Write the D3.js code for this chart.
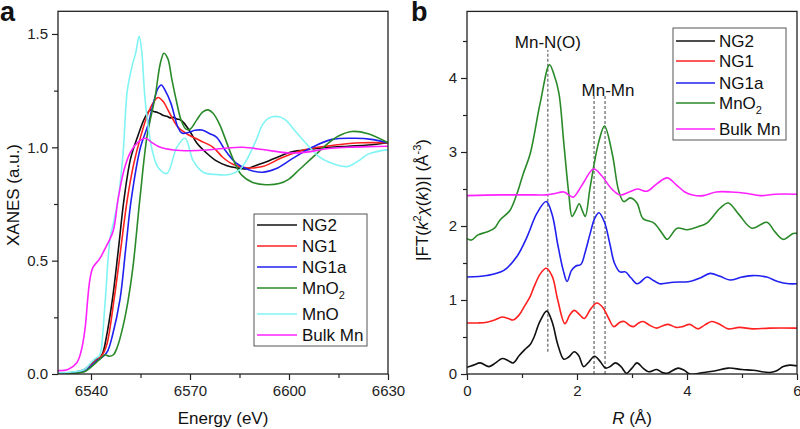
<!DOCTYPE html>
<html><head><meta charset="utf-8">
<script src="https://cdnjs.cloudflare.com/ajax/libs/d3/7.8.5/d3.min.js"></script>
<style>body{margin:0;background:#fff}svg{display:block;font-family:"Liberation Sans",Arial,sans-serif}</style>
</head><body>
<svg id="c" width="800" height="429"></svg>
<script>
// ---------- Panel a: XANES ----------
const xanesXTicks = [6540, 6570, 6600, 6630];
const xanesYTicks = [0, 0.5, 1.0, 1.5];
const ng2A = [[6530,0.005],[6535,0.008],[6538,0.02],[6540,0.045],[6541.5,0.065],[6542.5,0.07],[6543.5,0.09],[6544.5,0.15],[6546.5,0.33],[6548.3,0.55],[6550,0.77],[6552,0.95],[6554.2,1.05],[6556.3,1.13],[6558,1.165],[6559,1.158],[6560,1.155],[6561,1.148],[6562,1.14],[6563,1.137],[6564,1.13],[6565,1.132],[6566,1.125],[6567,1.122],[6568,1.11],[6570,1.07],[6572,1.02],[6575,0.975],[6578,0.94],[6581,0.92],[6584,0.91],[6587,0.905],[6590,0.92],[6593,0.935],[6597,0.96],[6601,0.98],[6606,0.99],[6612,1.0],[6618,1.005],[6624,1.01],[6630,1.02]];
const ng1A = [[6530,0.004],[6535,0.006],[6538,0.015],[6540,0.04],[6541.5,0.06],[6542.5,0.07],[6543.5,0.085],[6544.8,0.13],[6547,0.33],[6549,0.55],[6551,0.77],[6553,0.93],[6555,1.045],[6557.3,1.15],[6559,1.2],[6560.3,1.22],[6562,1.2],[6563.3,1.165],[6566.3,1.09],[6569,1.06],[6573,1.03],[6577,1.0],[6580,0.955],[6583,0.925],[6587,0.91],[6592,0.915],[6598,0.955],[6605,0.99],[6614,1.01],[6622,1.02],[6630,1.02]];
const ng1aA = [[6530,0.003],[6535,0.005],[6538,0.012],[6540,0.035],[6541.5,0.055],[6542.5,0.065],[6543.5,0.075],[6545,0.1],[6546.5,0.17],[6548.8,0.33],[6550.5,0.55],[6552.2,0.77],[6555,1.0],[6557.3,1.1],[6559,1.2],[6560.3,1.26],[6561.3,1.275],[6562.5,1.25],[6564.2,1.195],[6566.3,1.09],[6567.5,1.063],[6569.5,1.065],[6571.5,1.075],[6573.6,1.076],[6576,1.06],[6578,1.045],[6581,0.98],[6584,0.93],[6588,0.9],[6592,0.89],[6596,0.905],[6601,0.95],[6607,1.0],[6613,1.035],[6620,1.04],[6625,1.035],[6630,1.02]];
const mno2A = [[6530,0.002],[6535,0.004],[6538,0.01],[6540,0.03],[6541.5,0.05],[6543,0.07],[6544.3,0.085],[6545.5,0.078],[6546.8,0.085],[6548,0.12],[6549.7,0.21],[6551.2,0.32],[6552.7,0.47],[6554.8,0.77],[6557,1.05],[6559.4,1.22],[6561,1.37],[6562.1,1.415],[6563.3,1.39],[6564.5,1.3],[6565.8,1.21],[6567.3,1.12],[6568.8,1.08],[6570,1.08],[6572,1.12],[6573.8,1.155],[6575.5,1.165],[6577,1.15],[6579,1.1],[6580.5,1.045],[6583,0.95],[6585.5,0.88],[6589,0.845],[6593,0.835],[6597,0.84],[6600,0.86],[6603,0.9],[6606,0.94],[6609,0.98],[6612,1.02],[6615,1.05],[6619,1.07],[6624,1.06],[6630,1.02]];
const mnoA = [[6530,0.005],[6535,0.01],[6538,0.02],[6540,0.05],[6541.5,0.07],[6542.5,0.08],[6543,0.1],[6544.2,0.3],[6545.8,0.6],[6547,0.68],[6548.2,0.77],[6549.7,0.97],[6551,1.25],[6552.4,1.355],[6553.6,1.42],[6554.6,1.49],[6555.4,1.42],[6556.4,1.21],[6558.5,0.99],[6560.4,0.91],[6563,0.885],[6566,1.0],[6568.5,1.04],[6571,0.94],[6574,0.89],[6578,0.88],[6582,0.88],[6585,0.9],[6587,0.94],[6590,1.03],[6592,1.1],[6594,1.13],[6597,1.135],[6599,1.12],[6602,1.07],[6605,1.02],[6609,0.96],[6612,0.935],[6617.5,0.915],[6621,0.94],[6624,0.97],[6630,0.99]];
const bulkMnA = [[6530,0.015],[6533,0.02],[6535.7,0.05],[6537,0.1],[6538.2,0.2],[6539,0.33],[6539.7,0.42],[6540.6,0.47],[6542.7,0.51],[6544.5,0.56],[6546.7,0.63],[6548.2,0.77],[6550,0.9],[6552,0.98],[6554,1.02],[6556.5,1.04],[6558.5,1.02],[6561,1.0],[6565,0.988],[6570,0.985],[6575,0.988],[6580,0.995],[6586,1.0],[6592,0.99],[6600,0.975],[6606,0.98],[6612,0.995],[6618,1.0],[6624,1.003],[6630,1.005]];

// ---------- Panel b: FT-EXAFS ----------
const ftXTicks = [0, 2, 4, 6];
const ftYTicks = [0, 1, 2, 3, 4];
const ng2B = [[0,0.09],[0.12,0.12],[0.24,0.15],[0.4,0.1],[0.52,0.15],[0.64,0.21],[0.75,0.18],[0.84,0.15],[0.95,0.25],[1.05,0.33],[1.15,0.4],[1.22,0.5],[1.32,0.7],[1.45,0.85],[1.55,0.7],[1.65,0.4],[1.76,0.2],[1.85,0.23],[1.95,0.3],[2.03,0.25],[2.12,0.1],[2.2,0.15],[2.32,0.24],[2.42,0.17],[2.52,0.08],[2.6,0.1],[2.7,0.15],[2.8,0.1],[2.9,0.01],[3.0,0.08],[3.09,0.15],[3.2,0.08],[3.3,0.03],[3.45,0.06],[3.55,0.02],[3.64,0.01],[3.84,0.08],[3.95,0.05],[4.05,0.0],[4.3,0.02],[4.5,0.04],[4.75,0.08],[5.0,0.06],[5.2,0.05],[5.5,0.02],[5.62,0.04],[5.75,0.1],[5.87,0.12],[6,0.11]];
const ng1B = [[0,0.69],[0.2,0.69],[0.36,0.70],[0.5,0.73],[0.64,0.77],[0.75,0.75],[0.84,0.73],[0.95,0.8],[1.04,0.91],[1.15,1.05],[1.22,1.18],[1.33,1.35],[1.44,1.43],[1.55,1.32],[1.65,1.0],[1.78,0.68],[1.87,0.8],[1.95,0.86],[2.05,0.8],[2.13,0.75],[2.25,0.88],[2.36,0.96],[2.47,0.9],[2.57,0.76],[2.67,0.64],[2.78,0.7],[2.86,0.71],[2.95,0.66],[3.03,0.64],[3.12,0.69],[3.2,0.71],[3.32,0.66],[3.45,0.62],[3.55,0.65],[3.66,0.67],[3.8,0.63],[3.92,0.64],[4.05,0.67],[4.2,0.61],[4.32,0.66],[4.45,0.71],[4.6,0.67],[4.75,0.61],[4.95,0.63],[5.2,0.61],[5.5,0.62],[6,0.62]];
const ng1aB = [[0,1.31],[0.36,1.33],[0.67,1.4],[0.9,1.58],[1.09,1.85],[1.27,2.17],[1.44,2.33],[1.55,2.15],[1.65,1.75],[1.75,1.4],[1.82,1.25],[1.9,1.4],[1.98,1.46],[2.07,1.48],[2.15,1.65],[2.24,1.9],[2.32,2.1],[2.4,2.18],[2.5,2.05],[2.6,1.75],[2.68,1.5],[2.78,1.38],[2.88,1.38],[2.98,1.3],[3.09,1.22],[3.15,1.24],[3.27,1.31],[3.4,1.26],[3.5,1.22],[3.75,1.24],[4.05,1.25],[4.25,1.3],[4.42,1.36],[4.6,1.32],[4.78,1.27],[5.0,1.31],[5.2,1.33],[5.45,1.31],[5.65,1.25],[5.85,1.22],[6,1.22]];
const mno2B = [[0,1.83],[0.08,1.81],[0.2,1.88],[0.36,1.92],[0.5,1.97],[0.6,2.08],[0.78,2.21],[0.91,2.44],[1.02,2.7],[1.15,2.98],[1.33,3.66],[1.5,4.18],[1.58,4.05],[1.67,3.8],[1.76,3.12],[1.85,2.44],[1.91,2.13],[1.97,2.2],[2.04,2.3],[2.1,2.2],[2.15,2.13],[2.24,2.53],[2.39,3.12],[2.5,3.35],[2.64,2.98],[2.76,2.47],[2.85,2.33],[2.97,2.38],[3.09,2.31],[3.2,2.1],[3.4,2.04],[3.55,1.9],[3.64,1.82],[3.82,1.97],[4.0,1.95],[4.2,1.99],[4.36,2.04],[4.6,2.24],[4.75,2.31],[4.95,2.15],[5.18,1.97],[5.45,2.05],[5.6,1.92],[5.75,1.82],[5.93,1.9],[6,1.9]];
const bulkMnB = [[0,2.41],[0.6,2.42],[1.22,2.42],[1.45,2.42],[1.6,2.44],[1.76,2.46],[1.85,2.42],[1.93,2.39],[2.09,2.55],[2.3,2.77],[2.45,2.68],[2.62,2.51],[2.78,2.42],[2.95,2.46],[3.1,2.5],[3.27,2.47],[3.45,2.57],[3.64,2.65],[3.8,2.56],[3.96,2.46],[4.1,2.42],[4.3,2.41],[4.53,2.46],[4.8,2.46],[5.1,2.44],[5.33,2.41],[5.6,2.43],[6,2.43]];
const markerR = [1.47, 2.31, 2.51];

const C = {ng2:"#111111", ng1:"#ff2020", ng1a:"#2020f0", mno2:"#2a8a2a", mno:"#80f4f4", bulk:"#ff22ff"};
const svg = d3.select("#c");
const axisColor = "#222";

function frame(g, x, y) {
  const [x0,x1] = x.range(), [y0,y1] = y.range();
  g.append("rect").attr("x",x0).attr("y",y1).attr("width",x1-x0).attr("height",y0-y1)
    .attr("fill","none").attr("stroke",axisColor).attr("stroke-width",1.3);
}
function axes(g, x, y, xMaj, xMin, yMaj, yMin, yFmt) {
  const ax = d3.axisBottom(x).tickValues(xMaj).tickSize(6).tickPadding(5).tickFormat(d3.format("d"));
  const axg = g.append("g").attr("transform",`translate(0,${y.range()[0]})`).call(ax);
  const axm = g.append("g").attr("transform",`translate(0,${y.range()[0]})`).call(d3.axisBottom(x).tickValues(xMin).tickSize(4).tickFormat(""));
  const ay = d3.axisLeft(y).tickValues(yMaj).tickSize(6).tickPadding(4).tickFormat(yFmt);
  const ayg = g.append("g").attr("transform",`translate(${x.range()[0]},0)`).call(ay);
  const aym = g.append("g").attr("transform",`translate(${x.range()[0]},0)`).call(d3.axisLeft(y).tickValues(yMin).tickSize(4).tickFormat(""));
  [axg,axm,ayg,aym].forEach(a=>{
    a.select(".domain").remove();
    a.selectAll("line").attr("stroke",axisColor).attr("stroke-width",1.2);
    a.selectAll("text").attr("font-size",15).attr("fill","#222").attr("font-family","Liberation Sans, Arial, sans-serif");
  });
}
function series(g, x, y, data, color) {
  const line = d3.line().x(d=>x(d[0])).y(d=>y(d[1])).curve(d3.curveCatmullRom.alpha(0.5));
  g.append("path").datum(data).attr("d",line).attr("fill","none").attr("stroke",color).attr("stroke-width",1.6);
}
function legend(g, x0, y0, w, rows, lineX0, lineX1, textX) {
  const h = rows[rows.length-1].y + 11 - y0;
  g.append("rect").attr("x",x0).attr("y",y0).attr("width",w).attr("height",h)
    .attr("fill","#fff").attr("stroke","#555").attr("stroke-width",1);
  rows.forEach(r=>{
    g.append("line").attr("x1",lineX0).attr("x2",lineX1).attr("y1",r.y).attr("y2",r.y).attr("stroke",r.c).attr("stroke-width",1.6);
    const t = g.append("text").attr("x",textX).attr("y",r.y+6).attr("font-size",17).attr("fill","#111");
    if (r.sub) { t.append("tspan").text(r.name); t.append("tspan").attr("dy",5).attr("font-size",11).text(r.sub); }
    else t.text(r.name);
  });
}

// ----- Panel a -----
const xa = d3.scaleLinear().domain([6530,6630]).range([58,388]);
const ya = d3.scaleLinear().domain([0,1.6]).range([374,11.3]);
const ga = svg.append("g");
const clipA = svg.append("clipPath").attr("id","ca").append("rect").attr("x",58).attr("y",11.3).attr("width",330).attr("height",362.7);
const pa = ga.append("g").attr("clip-path","url(#ca)");
[[ng2A,C.ng2],[ng1A,C.ng1],[ng1aA,C.ng1a],[mno2A,C.mno2],[mnoA,C.mno],[bulkMnA,C.bulk]].forEach(([d,c])=>series(pa,xa,ya,d,c));
frame(ga, xa, ya);
axes(ga, xa, ya, xanesXTicks, [6555,6585,6615], xanesYTicks, [0.25,0.75,1.25], d3.format(".1f"));
legend(ga, 254, 214, 113, [
  {name:"NG2",c:C.ng2,y:225},{name:"NG1",c:C.ng1,y:246},{name:"NG1a",c:C.ng1a,y:267},
  {name:"MnO",sub:"2",c:C.mno2,y:288},{name:"MnO",c:C.mno,y:314},{name:"Bulk Mn",c:C.bulk,y:335}], 257, 297, 302);
ga.append("text").attr("x",223).attr("y",424).attr("text-anchor","middle").attr("font-size",17).attr("fill","#111").text("Energy (eV)");
ga.append("text").attr("transform","translate(19,195) rotate(-90)").attr("text-anchor","middle").attr("font-size",17).attr("fill","#111").text("XANES (a.u.)");
svg.append("text").attr("x",0).attr("y",21).attr("font-size",27).attr("font-weight","bold").attr("fill","#111").text("a");

// ----- Panel b -----
const xb = d3.scaleLinear().domain([0,6]).range([467,797]);
const yb = d3.scaleLinear().domain([0,4.9]).range([374,11.4]);
const gb = svg.append("g");
svg.append("clipPath").attr("id","cb").append("rect").attr("x",467).attr("y",11.4).attr("width",330).attr("height",362.6);
const pb = gb.append("g").attr("clip-path","url(#cb)");
// dashed markers
pb.append("line").attr("x1",xb(markerR[0])).attr("x2",xb(markerR[0])).attr("y1",yb(0.3)).attr("y2",yb(4.38))
  .attr("stroke","#555").attr("stroke-width",1.1).attr("stroke-dasharray","3,2");
[markerR[1],markerR[2]].forEach(r=>pb.append("line").attr("x1",xb(r)).attr("x2",xb(r)).attr("y1",yb(0)).attr("y2",yb(3.77))
  .attr("stroke","#555").attr("stroke-width",1.1).attr("stroke-dasharray","3,2"));
[[ng2B,C.ng2],[ng1B,C.ng1],[ng1aB,C.ng1a],[mno2B,C.mno2],[bulkMnB,C.bulk]].forEach(([d,c])=>series(pb,xb,yb,d,c));
frame(gb, xb, yb);
axes(gb, xb, yb, ftXTicks, [1,3,5], ftYTicks, [0.5,1.5,2.5,3.5,4.5], d3.format("d"));
legend(gb, 673, 28, 113, [
  {name:"NG2",c:C.ng2,y:41},{name:"NG1",c:C.ng1,y:61},{name:"NG1a",c:C.ng1a,y:83},
  {name:"MnO",sub:"2",c:C.mno2,y:103},{name:"Bulk Mn",c:C.bulk,y:129}], 676, 715, 719);
gb.append("text").attr("x",xb(1.47)).attr("y",48).attr("text-anchor","middle").attr("font-size",17).attr("fill","#111").text("Mn-N(O)");
gb.append("text").attr("x",608).attr("y",96).attr("text-anchor","middle").attr("font-size",17).attr("fill","#111").text("Mn-Mn");
const rl = gb.append("text").attr("x",632).attr("y",424).attr("text-anchor","middle").attr("font-size",17).attr("fill","#111");
rl.append("tspan").attr("font-style","italic").text("R");
rl.append("tspan").text(" (Å)");
const yl = gb.append("text").attr("transform","translate(428,200) rotate(-90)").attr("text-anchor","middle").attr("font-size",17).attr("fill","#111");
yl.append("tspan").text("|FT(");
yl.append("tspan").attr("font-style","italic").text("k");
yl.append("tspan").attr("dy",-7).attr("font-size",11).text("2");
yl.append("tspan").attr("dy",7).attr("font-style","italic").text("χ");
yl.append("tspan").text("(");
yl.append("tspan").attr("font-style","italic").text("k");
yl.append("tspan").text("))| (Å");
yl.append("tspan").attr("dy",-7).attr("font-size",11).text("-3");
yl.append("tspan").attr("dy",7).text(")");
svg.append("text").attr("x",411).attr("y",21).attr("font-size",27).attr("font-weight","bold").attr("fill","#111").text("b");
</script>
</body></html>
